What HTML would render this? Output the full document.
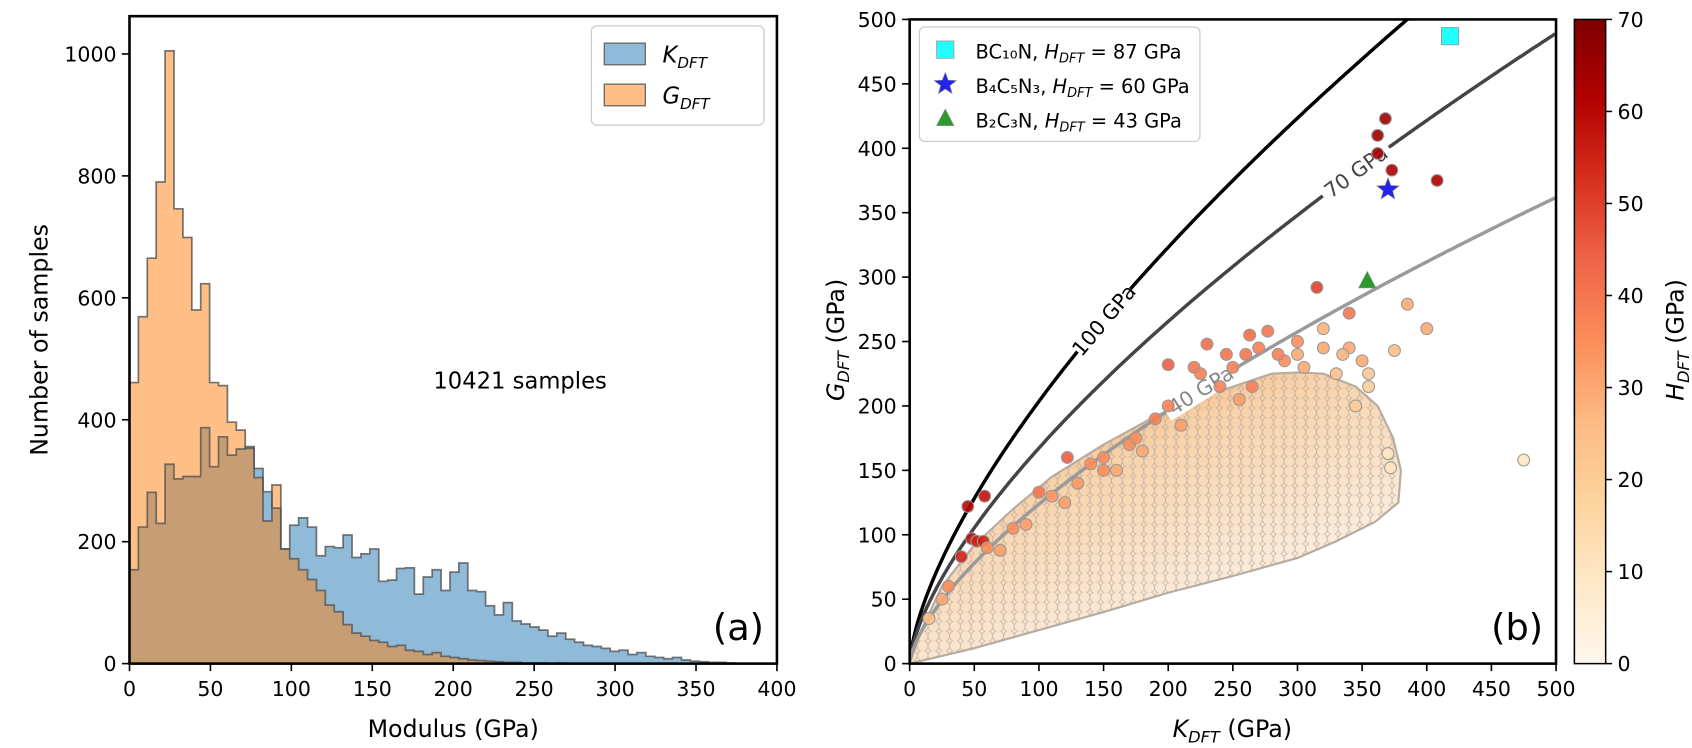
<!DOCTYPE html>
<html><head><meta charset="utf-8">
<style>
html,body{margin:0;padding:0;background:#fff;}
svg{display:block;font-family:"DejaVu Sans","Liberation Sans",sans-serif;}
</style></head>
<body>
<svg id="fig" width="1692" height="748" viewBox="0 0 1568 693.2" preserveAspectRatio="none" xmlns="http://www.w3.org/2000/svg">
<defs>
<linearGradient id="cbar" x1="0" y1="1" x2="0" y2="0">
<stop offset="0" stop-color="#fff7ec"/><stop offset="0.125" stop-color="#fee8c8"/><stop offset="0.25" stop-color="#fdd49e"/><stop offset="0.375" stop-color="#fdbb84"/><stop offset="0.5" stop-color="#fc8d59"/><stop offset="0.625" stop-color="#ef6548"/><stop offset="0.75" stop-color="#d7301f"/><stop offset="0.875" stop-color="#b30000"/><stop offset="1" stop-color="#7f0000"/>
</linearGradient>
<linearGradient id="cloudg" gradientUnits="userSpaceOnUse" x1="1010" y1="320" x2="1110" y2="570">
<stop offset="0" stop-color="#f5a56a"/><stop offset="0.4" stop-color="#f8d2aa"/><stop offset="1" stop-color="#fbeee0"/>
</linearGradient>
<pattern id="rings" width="10" height="9" patternUnits="userSpaceOnUse">
<circle cx="5" cy="4.5" r="5" fill="none" stroke="#a9a29a" stroke-width="0.8"/>
</pattern>
</defs>
<g id="left"></g>
<g id="right"></g>
</svg>
<script>
// ---------- Panel (a) data ----------
const binWidth = 5.5;
const kCounts = [154,224,281,230,327,303,307,307,387,323,372,342,352,356,320,282,255,188,227,239,224,177,192,190,211,174,180,188,135,137,156,157,114,142,154,120,150,165,120,118,95,80,100,70,65,60,55,45,50,40,35,30,28,25,20,22,15,18,12,10,8,10,6,4,3,2,2,1];
const gCounts = [461,569,665,790,1005,746,699,580,623,461,456,396,383,353,305,234,293,188,172,154,138,120,96,85,64,50,45,38,35,28,30,22,20,15,18,12,10,8,6,5,4,3,2,2,1,1,1,0,1];
const xTicksA = [0,50,100,150,200,250,300,350,400];
const yTicksA = [0,200,400,600,800,1000];
// ---------- Panel (b) data ----------
const xTicksB = [0,50,100,150,200,250,300,350,400,450,500];
const yTicksB = [0,50,100,150,200,250,300,350,400,450,500];
const cbTicks = [0,10,20,30,40,50,60,70];
const contourLevels = [100,70,40];
const contourColors = ["#000000","#444444","#9a9a9a"];
const contourLabelK = [150,345,225];
const cloudK = [0,50,100,150,200,250,300,330,360,378,380,374,362,345,320,300,280,250,220,190,150,110,80,50,25,8];
const cloudG = [0,12,26,40,55,68,82,95,110,125,150,175,200,215,225,226,225,215,205,192,170,145,120,92,60,24];
const ptK = [368,362,373,408,362,58,45,48,52,40,57,315,200,340,263,277,245,230,122,100,475,400,385,375,372,370,220,260,290,300,265,285,240,200,190,170,150,140,130,110,80,60,30,320,340,350,330,355,345,160,180,210,255,305,335,120,90,70,25,15,270,250,225,300,320,355,175,150];
const ptG = [423,410,383,375,396,130,122,97,95,83,95,292,232,272,255,258,240,248,160,133,158,260,279,243,152,163,230,240,235,250,215,240,215,200,190,170,160,155,140,130,105,90,60,245,245,235,225,215,200,150,165,185,205,230,240,125,108,88,50,35,245,230,225,240,260,225,175,150];
const ptH = [65,65,62,62,64,58,60,58,55,55,55,50,45,40,42,40,40,42,45,40,10,30,30,25,10,10,40,40,35,35,38,38,38,38,38,35,35,35,33,33,35,35,35,30,30,30,25,20,20,30,30,32,32,30,28,32,32,32,30,25,38,38,38,30,28,22,35,35];
const specialNames = ["BC\u2081\u2080N","B\u2084C\u2085N\u2083","B\u2082C\u2083N"];
const specialK = [418,370,354];
const specialG = [487,368,297];
const specialH = [87,60,43];

const NS="http://www.w3.org/2000/svg";
function mk(parent,tag,attrs,text){const e=document.createElementNS(NS,tag);for(const k in attrs)e.setAttribute(k,attrs[k]);if(text!==undefined)e.textContent=text;parent.appendChild(e);return e;}

// ===== Panel (a) =====
const A=document.getElementById('left');
const ax={x0:120,x1:720,y0:615,y1:15};
const xa=v=>ax.x0+(v/400)*(ax.x1-ax.x0);
const ya=v=>ax.y0-v*0.565;
function histPath(counts){let d=`M${xa(0)},${ya(0)}`;counts.forEach((c,i)=>{d+=` L${xa(i*binWidth)},${ya(c)} L${xa((i+1)*binWidth)},${ya(c)}`;});d+=` L${xa(counts.length*binWidth)},${ya(0)} Z`;return d;}
function stepPath(counts){let d=`M${xa(0)},${ya(0)}`;counts.forEach((c,i)=>{d+=` L${xa(i*binWidth)},${ya(c)} L${xa((i+1)*binWidth)},${ya(c)}`;});d+=` L${xa(counts.length*binWidth)},${ya(0)}`;return d;}
let e;
e=mk(A,'path',{d:histPath(kCounts),fill:'#1f77b4','fill-opacity':0.5,stroke:'none'});


e=mk(A,'path',{d:histPath(gCounts),fill:'#ff7f0e','fill-opacity':0.5,stroke:'none'});


e=mk(A,'path',{d:stepPath(kCounts),fill:'none',stroke:'#555','stroke-opacity':0.8,'stroke-width':1.6});


e=mk(A,'path',{d:stepPath(gCounts),fill:'none',stroke:'#555','stroke-opacity':0.8,'stroke-width':1.6});


e=mk(A,'rect',{x:ax.x0,y:ax.y1,width:ax.x1-ax.x0,height:ax.y0-ax.y1,fill:'none',stroke:'#000','stroke-width':2.4});


xTicksA.forEach(v=>{mk(A,'line',{x1:xa(v),x2:xa(v),y1:ax.y0,y2:ax.y0+7,stroke:'#000','stroke-width':1.5});
 e=mk(A,'text',{x:xa(v),y:ax.y0+30,'font-size':19,'text-anchor':'middle'},String(v));
 
 });
yTicksA.forEach(v=>{mk(A,'line',{x1:ax.x0-7,x2:ax.x0,y1:ya(v),y2:ya(v),stroke:'#000','stroke-width':1.5});
 e=mk(A,'text',{x:ax.x0-12,y:ya(v)+7,'font-size':19,'text-anchor':'end'},String(v));
 
 });
e=mk(A,'text',{x:420,y:683,'font-size':22,'text-anchor':'middle'},'Modulus (GPa)');


e=mk(A,'text',{x:0,y:0,'font-size':22,'text-anchor':'middle',transform:'translate(44,315) rotate(-90)'},'Number of samples');


e=mk(A,'text',{x:482,y:360,'font-size':21,'text-anchor':'middle'},'10421 samples');


e=mk(A,'text',{x:708,y:593,'font-size':34,'text-anchor':'end'},'(a)');


const LA=mk(A,'g',{});


mk(LA,'rect',{x:548,y:24,width:160,height:92,rx:5,fill:'#fff','fill-opacity':0.9,stroke:'#ccc','stroke-width':1.2});
e=mk(LA,'rect',{x:560,y:40,width:38,height:20,fill:'#8fbbd9',stroke:'#666','stroke-width':1.2});


e=mk(LA,'rect',{x:560,y:78,width:38,height:20,fill:'#ffbf86',stroke:'#666','stroke-width':1.2});


let t=mk(LA,'text',{x:614,y:58,'font-size':21,'font-style':'italic'});


mk(t,'tspan',{},'K');mk(t,'tspan',{'font-size':14,dy:5},'DFT');
t=mk(LA,'text',{x:614,y:96,'font-size':21,'font-style':'italic'});


mk(t,'tspan',{},'G');mk(t,'tspan',{'font-size':14,dy:5},'DFT');

// ===== Panel (b) =====
const B=document.getElementById('right');
const bx={x0:843,x1:1442,y0:615,y1:18};
const xb=v=>bx.x0+(v/500)*(bx.x1-bx.x0);
const yb=v=>bx.y0-(v/500)*(bx.y0-bx.y1);
const cmapStops=['#fff7ec','#fee8c8','#fdd49e','#fdbb84','#fc8d59','#ef6548','#d7301f','#b30000','#7f0000'];
function hex2(c){return [1,3,5].map(i=>parseInt(c.substr(i,2),16));}
function cmap(h){let f=Math.max(0,Math.min(1,h/70))*8;let i=Math.min(7,Math.floor(f));let r=f-i;const a=hex2(cmapStops[i]),b=hex2(cmapStops[i+1]);return 'rgb('+a.map((v,j)=>Math.round(v+(b[j]-v)*r)).join(',')+')';}
const clip=mk(B,'clipPath',{id:'clipb'});mk(clip,'rect',{x:bx.x0,y:bx.y1,width:bx.x1-bx.x0,height:bx.y0-bx.y1});
const G=mk(B,'g',{'clip-path':'url(#clipb)'});
let cd='';cloudK.forEach((k,i)=>{cd+=(i?' L':'M')+xb(k)+','+yb(cloudG[i]);});cd+=' Z';
e=mk(G,'path',{d:cd,fill:'url(#cloudg)',stroke:'#b8aca0','stroke-width':2});


e=mk(G,'path',{d:cd,fill:'url(#rings)',stroke:'none',opacity:0.6});


function gOf(K,H){return Math.cbrt(K*K*Math.pow((H+3)/2,1/0.585));}
contourLevels.forEach((H,ci)=>{let d='';for(let K=0.3;K<=500;K+=1){const g=gOf(K,H);if(g>520)break;d+=(d?' L':'M')+xb(K).toFixed(1)+','+yb(g).toFixed(1);}
 e=mk(G,'path',{d:d,fill:'none',stroke:contourColors[ci],'stroke-width':3.2});
 
 
 const K=contourLabelK[ci],g=gOf(K,H);const px=xb(K),py=yb(g);const dx=xb(K+2)-px,dy=yb(gOf(K+2,H))-py;const ang=Math.atan2(dy,dx)*180/Math.PI;
 mk(G,'rect',{x:px-38,y:py-10,width:76,height:20,fill:'#fff',transform:`rotate(${ang} ${px} ${py})`});
 e=mk(G,'text',{x:px,y:py+7,'font-size':19,'text-anchor':'middle',fill:contourColors[ci]==='#9a9a9a'?'#888':contourColors[ci],transform:`rotate(${ang} ${px} ${py})`},H+' GPa');
 
 
});
ptK.forEach((k,i)=>{e=mk(G,'circle',{cx:xb(k),cy:yb(ptG[i]),r:5.5,fill:cmap(ptH[i]),'fill-opacity':0.9,stroke:'#999','stroke-width':1});
 
 });
function star(cx,cy,R){let d='';for(let i=0;i<10;i++){const r=i%2?R*0.42:R;const a=-Math.PI/2+i*Math.PI/5;d+=(i?' L':'M')+(cx+r*Math.cos(a)).toFixed(1)+','+(cy+r*Math.sin(a)).toFixed(1);}return d+' Z';}
function marker(p,i,x,y,s){if(i===0)return mk(p,'rect',{x:x-s,y:y-s,width:2*s,height:2*s,fill:'#22ffff',stroke:'#999','stroke-width':0.8});
 if(i===1)return mk(p,'path',{d:star(x,y,s*1.35),fill:'#2323ee',stroke:'#888','stroke-width':0.6});
 return mk(p,'path',{d:`M${x},${y-s*1.1} L${x+s},${y+s*0.8} L${x-s},${y+s*0.8} Z`,fill:'#2a9a2a',stroke:'#888','stroke-width':0.6});}
specialK.forEach((k,i)=>{e=marker(G,i,xb(k),yb(specialG[i]),8);
 
 });
e=mk(B,'rect',{x:bx.x0,y:bx.y1,width:bx.x1-bx.x0,height:bx.y0-bx.y1,fill:'none',stroke:'#000','stroke-width':2.4});


xTicksB.forEach(v=>{mk(B,'line',{x1:xb(v),x2:xb(v),y1:bx.y0,y2:bx.y0+7,stroke:'#000','stroke-width':1.5});
 e=mk(B,'text',{x:xb(v),y:bx.y0+30,'font-size':19,'text-anchor':'middle'},String(v));
 
 });
yTicksB.forEach(v=>{mk(B,'line',{x1:bx.x0-7,x2:bx.x0,y1:yb(v),y2:yb(v),stroke:'#000','stroke-width':1.5});
 e=mk(B,'text',{x:bx.x0-12,y:yb(v)+7,'font-size':19,'text-anchor':'end'},String(v));
 
 });
t=mk(B,'text',{x:1142,y:683,'font-size':22,'text-anchor':'middle'});


mk(t,'tspan',{'font-style':'italic'},'K');mk(t,'tspan',{'font-style':'italic','font-size':15,dy:5},'DFT');mk(t,'tspan',{dy:-5},' (GPa)');
t=mk(B,'text',{x:0,y:0,'font-size':22,'text-anchor':'middle',transform:'translate(782,315) rotate(-90)'});


mk(t,'tspan',{'font-style':'italic'},'G');mk(t,'tspan',{'font-style':'italic','font-size':15,dy:5},'DFT');mk(t,'tspan',{dy:-5},' (GPa)');
e=mk(B,'text',{x:1430,y:593,'font-size':34,'text-anchor':'end'},'(b)');


const LB=mk(B,'g',{});


mk(LB,'rect',{x:852,y:25,width:260,height:106,rx:5,fill:'#fff','fill-opacity':0.9,stroke:'#ccc','stroke-width':1.2});
specialNames.forEach((n,i)=>{const y=47+i*32;e=marker(LB,i,876,y-1,8);
 
 
 const tt=mk(LB,'text',{x:904,y:y+7,'font-size':18});
 
 
 mk(tt,'tspan',{},n+', ');mk(tt,'tspan',{'font-style':'italic'},'H');mk(tt,'tspan',{'font-style':'italic','font-size':12,dy:4},'DFT');mk(tt,'tspan',{dy:-4},' = '+specialH[i]+' GPa');});
const cb={x:1459,w:29,y0:615,y1:18};
e=mk(B,'rect',{x:cb.x,y:cb.y1,width:cb.w,height:cb.y0-cb.y1,fill:'url(#cbar)',stroke:'#000','stroke-width':1.4});


cbTicks.forEach(v=>{const y=cb.y0-(v/70)*(cb.y0-cb.y1);mk(B,'line',{x1:cb.x+cb.w,x2:cb.x+cb.w+6,y1:y,y2:y,stroke:'#000','stroke-width':1.4});
 e=mk(B,'text',{x:cb.x+cb.w+11,y:y+7,'font-size':19},String(v));
 
 });
t=mk(B,'text',{x:0,y:0,'font-size':22,'text-anchor':'middle',transform:'translate(1560,315) rotate(-90)'});


mk(t,'tspan',{'font-style':'italic'},'H');mk(t,'tspan',{'font-style':'italic','font-size':15,dy:5},'DFT');mk(t,'tspan',{dy:-5},' (GPa)');
</script>
</body></html>
